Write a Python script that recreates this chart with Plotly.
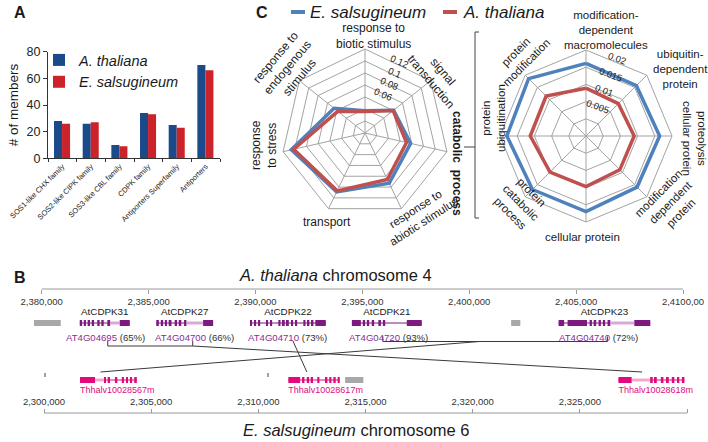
import math
import plotly.graph_objects as go

W, H = 708, 442
FONT = "Liberation Sans, Arial, sans-serif"

# ---------------- Panel A data ----------------
families = ["SOS1-like CHX family", "SOS2-like CIPK family", "SOS3-like CBL family",
            "CDPK family", "Antiporters Superfamily", "Antiporters"]
athal_counts = [28, 26, 10, 34, 25, 70]
esals_counts = [26, 27, 9, 33, 23, 66]

# ---------------- Panel C data ----------------
go_terms = ["response to biotic stimulus", "signal transduction", "catabolic process",
            "response to abiotic stimulus", "transport", "response to stress",
            "response to endogenous stimulus"]
go_esals = [0.037, 0.061, 0.078, 0.093, 0.109, 0.126, 0.066]
go_athal = [0.036, 0.060, 0.071, 0.086, 0.107, 0.122, 0.058]
go_ticks = [0.02, 0.04, 0.06, 0.08, 0.10, 0.12, 0.14]
go_tick_labels = ["", "", "0.06", "0.08", "0.1", "0.12", ""]

cat_terms = ["modification-dependent macromolecules", "ubiquitin-dependent protein",
             "proteolysis cellular protein", "modification-dependent protein",
             "cellular protein", "protein catabolic process", "protein ubiquitination",
             "protein modification"]
cat_esals = [0.0211, 0.0207, 0.0214, 0.0210, 0.0220, 0.0220, 0.0230, 0.0236]
cat_athal = [0.0139, 0.0133, 0.0140, 0.0139, 0.0147, 0.0148, 0.0162, 0.0164]
cat_ticks = [0.005, 0.010, 0.015, 0.020, 0.025]
cat_tick_labels = ["0.005", "0.01", "0.015", "0.02", ""]

# ---------------- Panel B data ----------------
at_ticks = [2380000, 2385000, 2390000, 2395000, 2400000, 2405000, 2410000]
at_tick_labels = ["2,380,000", "2,385,000", "2,390,000", "2,395,000", "2,400,000",
                  "2,405,000", "2,4100,00"]
es_ticks = [2300000, 2305000, 2310000, 2315000, 2320000, 2325000, 2330000]
es_tick_labels = ["2,300,000", "2,305,000", "2,310,000", "2,315,000", "2,320,000",
                  "2,325,000", "2,330,000"]

at_names = ["AtCDPK31", "AtCDPK27", "AtCDPK22", "AtCDPK21", "AtCDPK23"]
at_ids = ["AT4G04695", "AT4G04700", "AT4G04710", "AT4G04720", "AT4G04740"]
at_identity = ["65%", "66%", "73%", "93%", "72%"]
at_exons = [
    [(2381780, 2381890), (2381970, 2382070), (2382150, 2382260), (2382340, 2382450),
     (2382600, 2382710), (2382790, 2382900), (2383070, 2383200), (2383650, 2384120)],
    [(2385360, 2385480), (2385570, 2385680), (2385760, 2385860), (2385940, 2386070),
     (2386220, 2386330), (2386410, 2386530), (2386660, 2386770), (2387550, 2388020)],
    [(2389750, 2389840), (2389940, 2390030), (2390120, 2390220), (2390500, 2390590),
     (2390680, 2390780), (2391070, 2391170), (2391280, 2391370), (2391470, 2391560),
     (2391670, 2391760), (2391850, 2391950), (2392240, 2392340), (2392430, 2392520),
     (2392620, 2392710), (2392800, 2393290)],
    [(2394510, 2394930), (2395020, 2395130), (2395210, 2395320), (2395440, 2395550),
     (2395750, 2395870), (2395960, 2396070), (2397080, 2397780)],
    [(2404180, 2404440), (2404600, 2405510), (2405630, 2405740), (2405820, 2405940),
     (2406050, 2406160), (2406250, 2406360), (2406470, 2406600), (2407720, 2408470)],
]
at_hatched = [(2383200, 2383650), (2386770, 2387550), (2406600, 2407720)]
at_other = [(2379640, 2380890), (2401960, 2402390)]

es_ids = ["Thhalv10028567m", "Thhalv10028617m", "Thhalv10028618m"]
es_exons = [
    [(2301680, 2302380), (2302800, 2302890), (2302970, 2303080), (2303310, 2303420),
     (2303630, 2303730), (2303830, 2303920), (2304010, 2304110), (2304210, 2304330)],
    [(2311400, 2311950), (2312040, 2312150), (2312260, 2312370), (2312440, 2312550),
     (2312750, 2312850), (2313110, 2313220), (2313310, 2313410), (2313500, 2313610),
     (2313700, 2313800)],
    [(2326800, 2327420), (2328280, 2328400), (2328460, 2328590), (2328780, 2328900),
     (2329020, 2329150), (2329290, 2329410), (2329550, 2329640), (2329760, 2329880)],
]
es_hatched = [(2302380, 2302800), (2327420, 2328280)]
es_other = [(2314050, 2314900)]

ortholog_at_groups = [[0, 1], [2], [3, 4]]
ortholog_es = [2, 1, 0]

# ---------------- styles ----------------
BAR_BLUE = "#1B4A8A"
BAR_RED = "#CC2229"
RAD_BLUE = "#4F81BD"
RAD_RED = "#C0504D"
GRID = "#A3A3A3"
PURPLE = "#7D1A80"
PURPLE_LIGHT = "#D7A9D9"
PURPLE_TXT = "#8A2D92"
PINK = "#E2097E"
PINK_LIGHT = "#F6A9CF"
GRAY_BOX = "#A8A8A8"
AXIS_GRAY = "#9A9A9A"


def px_x(p):
    return p / W


def px_y(p):
    return 1 - p / H


# pixel geometry of the genome rulers
TOP_PX0, TOP_PX1, TOP_Y = 41.7, 683.0, 289
BOT_PX0, BOT_PX1, BOT_Y = 44.0, 687.0, 413
DOM0, DOM1 = 8.0, 704.0
bpp_top = (at_ticks[-1] - at_ticks[0]) / (TOP_PX1 - TOP_PX0)
bpp_bot = (es_ticks[-1] - es_ticks[0]) / (BOT_PX1 - BOT_PX0)
top_range = [at_ticks[0] - (TOP_PX0 - DOM0) * bpp_top, at_ticks[-1] + (DOM1 - TOP_PX1) * bpp_top]
bot_range = [es_ticks[0] - (BOT_PX0 - DOM0) * bpp_bot, es_ticks[-1] + (DOM1 - BOT_PX1) * bpp_bot]


def bot_to_top_bp(bp):
    px = BOT_PX0 + (bp - es_ticks[0]) / bpp_bot
    return at_ticks[0] + (px - TOP_PX0) * bpp_top


TOP_EXON_Y, TOP_NAME_Y, TOP_ID_Y = 323, 313, 337.5
BOT_EXON_Y, BOT_ID_Y = 380, 390.5
EXON_H = 6
ID_XSHIFT = [1, 10, 0, 2, -6]          # px shift of the id labels
LINK_SHIFT = [3, 8, 5, -4, 3]           # px shift of connector anchors on top genes
ES_LINK_FRAC = 0.36                     # where connectors meet the lower genes

# radar geometry (px)
L_CX, L_CY, L_R = 365, 133, 84
R_CX, R_CY, R_R = 586, 136, 86

fig = go.Figure()

# ---------------- Panel A ----------------
fig.add_trace(go.Bar(x=families, y=athal_counts, name="<i>A. thaliana</i>",
                     marker=dict(color=BAR_BLUE, line=dict(width=0)),
                     offset=-0.29, width=0.28, xaxis="x", yaxis="y", legend="legend"))
fig.add_trace(go.Bar(x=families, y=esals_counts, name="<i>E. salsugineum</i>",
                     marker=dict(color=BAR_RED, line=dict(width=0)),
                     offset=-0.01, width=0.28, xaxis="x", yaxis="y", legend="legend"))

# ---------------- Panel C radars ----------------
fig.add_trace(go.Scatterpolar(r=go_esals + go_esals[:1], theta=go_terms + go_terms[:1],
                              mode="lines", line=dict(color=RAD_BLUE, width=3.5),
                              subplot="polar", showlegend=False, hoverinfo="skip"))
fig.add_trace(go.Scatterpolar(r=go_athal + go_athal[:1], theta=go_terms + go_terms[:1],
                              mode="lines", line=dict(color=RAD_RED, width=3.5),
                              subplot="polar", showlegend=False, hoverinfo="skip"))
fig.add_trace(go.Scatterpolar(r=cat_esals + cat_esals[:1], theta=cat_terms + cat_terms[:1],
                              mode="lines", line=dict(color=RAD_BLUE, width=3.5),
                              subplot="polar2", showlegend=False, hoverinfo="skip"))
fig.add_trace(go.Scatterpolar(r=cat_athal + cat_athal[:1], theta=cat_terms + cat_terms[:1],
                              mode="lines", line=dict(color=RAD_RED, width=3.5),
                              subplot="polar2", showlegend=False, hoverinfo="skip"))


# ---------------- Panel B genome tracks ----------------
def exon_bar(exon_sets, y, color, xa, ya):
    base, length = [], []
    for gene in exon_sets:
        for s, e in gene:
            base.append(s)
            length.append(e - s)
    return go.Bar(orientation="h", base=base, x=length, y=[y] * len(base), width=EXON_H,
                  marker=dict(color=color, line=dict(width=0)), xaxis=xa, yaxis=ya,
                  showlegend=False, hoverinfo="skip")


def segs(pairs, y):
    xs, ys = [], []
    for s, e in pairs:
        xs += [s, e, None]
        ys += [y, y, None]
    return xs, ys


# ruler lines
fig.add_trace(go.Scatter(x=[at_ticks[0], at_ticks[-1]], y=[TOP_Y, TOP_Y], mode="lines",
                         line=dict(color=AXIS_GRAY, width=1), xaxis="x3", yaxis="y3",
                         showlegend=False, hoverinfo="skip"))
fig.add_trace(go.Scatter(x=[es_ticks[0], es_ticks[-1]], y=[BOT_Y, BOT_Y], mode="lines",
                         line=dict(color=AXIS_GRAY, width=1), xaxis="x4", yaxis="y4",
                         showlegend=False, hoverinfo="skip"))

# introns
xs, ys = segs([(g[0][0], g[-1][1]) for g in at_exons], TOP_EXON_Y)
fig.add_trace(go.Scatter(x=xs, y=ys, mode="lines", line=dict(color=PURPLE, width=1),
                         xaxis="x3", yaxis="y3", showlegend=False, hoverinfo="skip"))
xs, ys = segs(at_hatched, TOP_EXON_Y)
fig.add_trace(go.Scatter(x=xs, y=ys, mode="lines", line=dict(color=PURPLE_LIGHT, width=3),
                         xaxis="x3", yaxis="y3", showlegend=False, hoverinfo="skip"))
xs, ys = segs([(g[0][0], g[-1][1]) for g in es_exons], BOT_EXON_Y)
fig.add_trace(go.Scatter(x=xs, y=ys, mode="lines", line=dict(color=PINK, width=1),
                         xaxis="x4", yaxis="y4", showlegend=False, hoverinfo="skip"))
xs, ys = segs(es_hatched, BOT_EXON_Y)
fig.add_trace(go.Scatter(x=xs, y=ys, mode="lines", line=dict(color=PINK_LIGHT, width=3),
                         xaxis="x4", yaxis="y4", showlegend=False, hoverinfo="skip"))

# exons
fig.add_trace(exon_bar(at_exons, TOP_EXON_Y, PURPLE, "x3", "y3"))
fig.add_trace(exon_bar([at_other], TOP_EXON_Y, GRAY_BOX, "x3", "y3"))
fig.add_trace(exon_bar(es_exons, BOT_EXON_Y, PINK, "x4", "y4"))
fig.add_trace(exon_bar([es_other], BOT_EXON_Y, GRAY_BOX, "x4", "y4"))

at_mids = [(g[0][0] + g[-1][1]) / 2 for g in at_exons]
es_starts = [g[0][0] for g in es_exons]
es_links = [g[0][0] + ES_LINK_FRAC * (g[-1][1] - g[0][0]) for g in es_exons]

fig.add_trace(go.Scatter(x=at_mids, y=[TOP_NAME_Y] * len(at_mids), mode="text", text=at_names,
                         textfont=dict(size=9.8, color="#1a1a1a", family=FONT),
                         xaxis="x3", yaxis="y3", showlegend=False, hoverinfo="skip",
                         cliponaxis=False))
fig.add_trace(go.Scatter(x=es_starts, y=[BOT_ID_Y] * len(es_starts), mode="text", text=es_ids,
                         textposition="middle right",
                         textfont=dict(size=9, color=PINK, family=FONT),
                         xaxis="x4", yaxis="y4", showlegend=False, hoverinfo="skip",
                         cliponaxis=False))

# ortholog connectors (drawn in the top ruler's coordinates)
bracket_y = [346, 341, 341.5]
anchor_frac = [1.0, 0.0, 0.43]
cx, cy = [], []
for g, (grp, e_idx) in enumerate(zip(ortholog_at_groups, ortholog_es)):
    xs_g = [at_mids[i] + LINK_SHIFT[i] * bpp_top for i in grp]
    yb = bracket_y[g]
    if len(grp) > 1:
        for xv in xs_g:
            cx += [xv, xv, None]
            cy += [yb - 5, yb, None]
        cx += [min(xs_g), max(xs_g), None]
        cy += [yb, yb, None]
    ax0 = min(xs_g) + anchor_frac[g] * (max(xs_g) - min(xs_g))
    cx += [ax0, bot_to_top_bp(es_links[e_idx]), None]
    cy += [yb, 372, None]
fig.add_trace(go.Scatter(x=cx, y=cy, mode="lines", line=dict(color="#3a3a3a", width=1),
                         xaxis="x3", yaxis="y3", showlegend=False, hoverinfo="skip"))

# ---------------- layout ----------------
annotations = []


def ann(x, y, text, size, angle=0, color="#1a1a1a", bold=False, xanchor="center"):
    annotations.append(dict(x=px_x(x), y=px_y(y), xref="paper", yref="paper",
                            text=f"<b>{text}</b>" if bold else text, showarrow=False,
                            textangle=angle, xanchor=xanchor, yanchor="middle",
                            font=dict(size=size, color=color, family=FONT)))


ann(20, 12, "A", 16, bold=True)
ann(20, 277, "B", 16, bold=True)
ann(262, 12, "C", 16, bold=True)
ann(335, 275, "<i>A. thaliana</i> chromosome 4", 16.5)
ann(356, 430, "<i>E. salsugineum</i> chromosome 6", 16.5)

# gene id labels on the upper track
for xm, gid, pct, sh in zip(at_mids, at_ids, at_identity, ID_XSHIFT):
    annotations.append(dict(x=xm, y=TOP_ID_Y, xref="x3", yref="y3", xshift=sh,
                            text=f"<span style='color:{PURPLE_TXT}'>{gid}</span> ({pct})",
                            showarrow=False, xanchor="center", yanchor="middle",
                            font=dict(size=9.6, color="#333333", family=FONT)))

# radial tick labels (placed along the radial direction of each radar)
for ticks, labels, rng, (cx0, cy0, rr), ang, off in [
        (go_ticks, go_tick_labels, 0.14, (L_CX, L_CY, L_R), 26, 7),
        (cat_ticks, cat_tick_labels, 0.025, (R_CX, R_CY, R_R), 22, 15)]:
    for v, lab in zip(ticks, labels):
        if not lab:
            continue
        r = v / rng * rr + off
        ann(cx0 + r * math.sin(math.radians(ang)), cy0 - r * math.cos(math.radians(ang)),
            lab, 9.5, angle=ang - 2, color="#222")

# radar category labels (text, x, y, angle, size)
go_label_style = [
    ("response to<br>biotic stimulus", 373, 36, 0, 12),
    ("signal<br>transduction", 437, 77, 50, 12),
    ("<b>catabolic\u00a0\u00a0process</b>", 457, 163, 90, 12),
    ("response to<br>abiotic stimulus", 419, 215, -33, 11.5),
    ("transport", 327, 222, 0, 12),
    ("response<br>to stress", 264, 145, -90, 12),
    ("response to<br>endogenous<br>stimulus", 287, 67, -50, 12),
]
cat_label_style = [
    ("modification-<br>dependent<br>macromolecules", 606, 30, 0, 11.5),
    ("ubiquitin-<br>dependent<br>protein", 680, 69, 0, 11.5),
    ("proteolysis<br>cellular protein", 695, 138, 90, 11.5),
    ("modification-<br>dependent<br>protein", 670, 203, -45, 11.5),
    ("cellular protein", 582, 237, 0, 11.5),
    ("protein<br>catabolic<br>process", 521, 203, 45, 11.5),
    ("protein<br>ubiquitination", 494, 118, -90, 11.5),
    ("protein<br>modification", 521, 58, -45, 11.5),
]
for t, x, y, a, s in go_label_style + cat_label_style:
    ann(x, y, t, s, angle=a)

# panel C legend
ann(308, 12, "<i>E. salsugineum</i>", 17, xanchor="left")
ann(461, 12, "<i>A. thaliana</i>", 17, xanchor="left")

shapes = [
    dict(type="line", xref="paper", yref="paper", x0=px_x(291), x1=px_x(305), y0=px_y(12),
         y1=px_y(12), line=dict(color=RAD_BLUE, width=4)),
    dict(type="line", xref="paper", yref="paper", x0=px_x(443), x1=px_x(457), y0=px_y(12),
         y1=px_y(12), line=dict(color=RAD_RED, width=4)),
]
# bracket between radars and small marks on the lower track
for (x0, y0, x1, y1) in [(475, 32, 475, 218), (475, 32, 479, 32), (475, 218, 479, 218),
                         (464, 147, 475, 147), (45, 373, 45, 377), (268, 373, 268, 377)]:
    shapes.append(dict(type="line", xref="paper", yref="paper", x0=px_x(x0), x1=px_x(x1),
                       y0=px_y(y0), y1=px_y(y1), line=dict(color="#444444", width=1)))

polar_common = dict(gridshape="linear", bgcolor="rgba(0,0,0,0)")
fig.update_layout(
    width=W, height=H, margin=dict(l=0, r=0, t=0, b=0, pad=0, autoexpand=False),
    paper_bgcolor="white", plot_bgcolor="rgba(0,0,0,0)",
    font=dict(family=FONT, color="#1a1a1a"),
    barmode="overlay", showlegend=True,
    legend=dict(x=px_x(39), y=px_y(44), xanchor="left", yanchor="top",
                bgcolor="rgba(0,0,0,0)", font=dict(size=14.5, family=FONT),
                itemwidth=30, itemclick=False, itemdoubleclick=False, tracegroupgap=0),
    xaxis=dict(domain=[px_x(48), px_x(220)], anchor="y", showline=True, linecolor="#333",
               linewidth=1, ticks="outside", tickson="boundaries", ticklen=3,
               tickcolor="#333", tickangle=-45, tickfont=dict(size=7.5, color="#222"),
               showgrid=False, range=[-0.5, 5.5], automargin=False),
    yaxis=dict(domain=[px_y(158.3), px_y(51.7)], anchor="x", range=[0, 80], dtick=20,
               showline=True, linecolor="#333", linewidth=1, ticks="outside", ticklen=4,
               tickcolor="#333", tickfont=dict(size=12.5, color="#222"), showgrid=False,
               zeroline=False, automargin=False,
               title=dict(text="# of members", font=dict(size=13.5), standoff=4)),
    polar=dict(
        domain=dict(x=[px_x(L_CX - L_R), px_x(L_CX + L_R)],
                    y=[px_y(L_CY + L_R), px_y(L_CY - L_R)]),
        angularaxis=dict(rotation=90, direction="clockwise", showticklabels=False,
                         ticks="", gridcolor=GRID, linecolor=GRID, linewidth=1),
        radialaxis=dict(range=[0, 0.14], tickvals=go_ticks, showticklabels=False,
                        showline=False, ticks="", gridcolor=GRID),
        **polar_common),
    polar2=dict(
        domain=dict(x=[px_x(R_CX - R_R), px_x(R_CX + R_R)],
                    y=[px_y(R_CY + R_R), px_y(R_CY - R_R)]),
        angularaxis=dict(rotation=90, direction="clockwise", showticklabels=False,
                         ticks="", gridcolor=GRID, linecolor=GRID, linewidth=1),
        radialaxis=dict(range=[0, 0.025], tickvals=cat_ticks, showticklabels=False,
                        showline=False, ticks="", gridcolor=GRID),
        **polar_common),
    xaxis3=dict(domain=[px_x(DOM0), px_x(DOM1)], anchor="free", position=px_y(TOP_Y),
                side="bottom", range=top_range, tickvals=at_ticks, ticktext=at_tick_labels,
                ticks="outside", ticklen=4, tickcolor=AXIS_GRAY, showline=False,
                showgrid=False, zeroline=False, tickfont=dict(size=9.5, color="#333"),
                automargin=False),
    yaxis3=dict(domain=[0, px_y(265)], range=[H, 265], visible=False, anchor="free",
                position=0, automargin=False),
    xaxis4=dict(domain=[px_x(DOM0), px_x(DOM1)], anchor="free", position=px_y(BOT_Y),
                side="top", range=bot_range, tickvals=es_ticks, ticktext=es_tick_labels,
                ticks="outside", ticklen=4, tickcolor=AXIS_GRAY, showline=False,
                showgrid=False, zeroline=False, tickfont=dict(size=9.5, color="#333"),
                automargin=False),
    yaxis4=dict(domain=[0, px_y(265)], range=[H, 265], visible=False, anchor="free",
                position=0, automargin=False),
    annotations=annotations, shapes=shapes,
)

fig.write_html("out.html", config={"displayModeBar": False},
               post_script="document.body.style.margin='0';")
